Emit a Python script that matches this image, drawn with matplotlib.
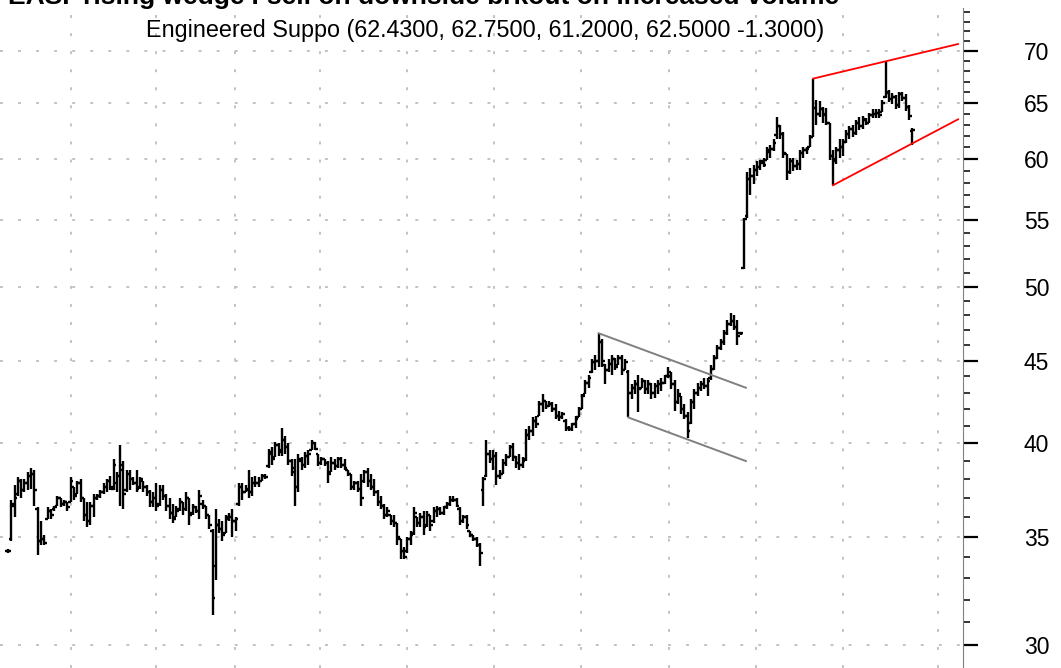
import numpy as np
import matplotlib
matplotlib.use("Agg")
import matplotlib.pyplot as plt
from matplotlib.ticker import FixedLocator, FixedFormatter, NullFormatter

plt.rcParams['font.family'] = ['Liberation Sans', 'DejaVu Sans']

# daily bars (open, high, low, close)
opens = [34.3, 34.9, 36.6, 37.2, 37.9, 37.4, 37.8, 38.2, 38.3, 36.4, 34.8, 34.9, 35.9, 36.3, 36.4, 36.6, 37.0, 36.7, 36.8, 36.8,
         37.6, 37.2, 37.8, 37.0, 36.1, 35.8, 36.6, 37.0, 37.1, 37.3, 37.6, 37.9, 37.5, 37.8, 38.2, 38.8, 37.4, 38.3, 38.0, 37.8,
         37.6, 37.9, 37.6, 37.3, 36.8, 37.0, 36.7, 37.4, 37.1, 36.6, 36.2, 36.0, 36.4, 36.8, 36.4, 37.0, 36.2, 36.5, 36.3, 36.7,
         36.6, 36.1, 35.3, 33.6, 35.6, 35.4, 35.2, 35.9, 36.0, 35.8, 36.7, 37.6, 37.3, 37.4, 37.3, 37.8, 37.8, 37.9, 38.2, 38.7,
         39.4, 39.2, 39.9, 39.6, 40.2, 39.8, 39.0, 38.6, 37.6, 39.0, 38.8, 39.3, 39.6, 40.0, 39.4, 38.9, 39.1, 38.9, 38.4, 38.9,
         38.7, 39.1, 38.8, 38.5, 38.3, 37.6, 37.8, 37.5, 37.9, 38.4, 37.9, 37.6, 37.3, 36.8, 36.6, 36.1, 36.1, 35.8, 35.7, 34.9,
         34.3, 34.3, 34.9, 35.2, 36.0, 35.7, 36.0, 35.6, 36.1, 35.8, 36.3, 36.4, 36.2, 36.5, 36.7, 36.9, 36.9, 36.4, 35.8, 36.0,
         35.3, 35.1, 34.9, 34.6, 37.4, 38.2, 39.4, 39.1, 39.3, 38.2, 38.3, 38.9, 39.2, 39.8, 39.2, 38.9, 38.8, 39.1, 40.5, 40.7,
         41.3, 41.6, 42.3, 42.5, 42.2, 42.3, 42.0, 41.6, 41.5, 41.3, 40.9, 40.8, 41.1, 41.5, 42.0, 42.9, 43.6, 44.3, 44.9, 45.0,
         46.2, 44.7, 44.4, 44.8, 45.1, 44.7, 45.2, 44.4, 44.3, 43.0, 43.3, 43.5, 43.3, 43.7, 43.2, 43.5, 43.0, 43.4, 43.5, 43.6,
         44.0, 44.0, 43.5, 42.4, 42.8, 42.0, 41.6, 41.2, 42.4, 43.0, 43.3, 43.5, 43.4, 43.9, 44.5, 45.2, 45.8, 46.2, 46.8, 47.4,
         47.6, 47.2, 46.8, 51.4, 55.3, 58.3, 58.6, 59.1, 59.3, 59.7, 59.9, 60.6, 60.9, 62.1, 62.9, 62.2, 60.4, 58.9, 59.8, 59.4,
         59.6, 60.5, 60.8, 61.0, 61.9, 64.5, 64.0, 64.4, 64.0, 63.2, 60.3, 60.0, 60.8, 61.0, 61.5, 62.2, 62.6, 62.3, 63.2, 62.9,
         63.4, 63.2, 63.9, 64.0, 64.1, 64.2, 65.6, 65.9, 65.4, 65.6, 64.8, 65.8, 65.5, 64.6, 62.43]
highs = [34.4, 36.9, 37.7, 38.1, 38.0, 38.0, 38.4, 38.6, 38.5, 36.5, 35.8, 35.1, 36.5, 36.4, 36.6, 37.1, 37.0, 36.9, 36.8, 38.1,
         37.6, 37.9, 38.0, 37.0, 36.8, 36.8, 37.2, 37.2, 37.4, 37.8, 38.0, 38.2, 39.1, 38.4, 39.9, 39.0, 38.5, 38.5, 38.1, 38.5,
         38.1, 37.9, 37.7, 37.4, 37.3, 37.8, 37.7, 37.7, 37.2, 37.0, 36.7, 36.6, 37.0, 36.8, 37.3, 37.0, 36.7, 36.6, 37.4, 36.9,
         36.6, 36.1, 35.4, 36.4, 35.9, 35.8, 36.1, 36.2, 36.4, 36.0, 37.8, 37.8, 37.7, 38.5, 38.1, 38.2, 38.1, 38.3, 38.3, 39.7,
         39.8, 40.1, 40.0, 40.9, 40.4, 40.0, 39.1, 39.1, 39.4, 39.2, 39.5, 39.6, 40.2, 40.1, 39.4, 39.2, 39.1, 39.0, 39.2, 39.1,
         39.2, 39.2, 39.1, 38.5, 38.3, 37.9, 37.9, 38.3, 38.5, 38.6, 38.3, 38.0, 37.4, 37.1, 36.7, 36.5, 36.1, 36.1, 35.7, 34.9,
         34.5, 35.0, 35.3, 36.5, 36.0, 36.2, 36.3, 36.3, 36.1, 36.5, 36.6, 36.5, 36.6, 36.8, 37.1, 37.1, 37.0, 36.5, 36.1, 36.1,
         35.3, 35.1, 35.0, 34.7, 38.1, 40.2, 39.6, 39.6, 39.5, 38.5, 39.1, 39.4, 39.9, 40.0, 39.3, 39.4, 39.2, 40.8, 41.0, 41.5,
         41.6, 42.5, 42.9, 42.5, 42.5, 42.4, 42.3, 41.9, 41.8, 41.4, 41.0, 41.2, 41.6, 42.1, 42.9, 43.8, 44.1, 45.1, 45.4, 46.8,
         46.4, 44.8, 45.1, 45.4, 45.2, 45.4, 45.4, 45.1, 44.4, 43.5, 43.8, 44.1, 43.9, 43.8, 43.8, 43.6, 43.6, 43.8, 43.9, 44.1,
         44.6, 44.3, 43.8, 43.2, 42.8, 42.3, 41.8, 42.6, 43.2, 43.6, 43.7, 43.9, 43.9, 44.7, 45.4, 46.0, 46.4, 47.0, 47.7, 48.2,
         48.0, 47.7, 46.9, 55.2, 58.9, 59.2, 59.5, 59.8, 59.9, 60.1, 61.0, 61.2, 61.7, 63.7, 63.0, 62.4, 60.4, 60.1, 60.1, 59.9,
         60.8, 61.0, 61.0, 62.1, 67.3, 65.3, 65.2, 64.6, 64.5, 63.2, 60.8, 61.0, 61.7, 61.7, 62.5, 62.9, 63.0, 63.4, 63.7, 63.8,
         63.6, 64.1, 64.4, 64.4, 64.4, 65.3, 69.0, 66.2, 65.9, 65.7, 66.0, 66.0, 65.8, 64.8, 62.75]
lows = [34.2, 34.8, 36.0, 37.1, 37.0, 37.3, 37.4, 37.5, 36.6, 34.1, 34.6, 34.6, 35.9, 35.9, 36.3, 36.6, 36.5, 36.6, 36.3, 36.8,
        36.9, 37.2, 36.8, 35.8, 35.5, 35.6, 36.0, 36.9, 37.0, 37.2, 37.3, 37.4, 37.4, 37.3, 36.6, 36.4, 37.3, 37.4, 37.7, 37.3,
        37.5, 37.3, 37.1, 36.5, 36.5, 36.3, 36.6, 36.9, 36.3, 35.9, 35.7, 36.0, 36.3, 36.1, 36.3, 35.6, 36.1, 36.2, 35.9, 36.4,
        35.9, 35.4, 31.3, 32.9, 35.2, 34.8, 35.2, 35.8, 35.0, 35.3, 36.6, 36.9, 37.3, 37.0, 37.1, 37.6, 37.6, 37.9, 38.0, 38.6,
        38.8, 39.2, 39.3, 39.3, 39.4, 38.8, 38.2, 36.6, 37.3, 38.5, 38.6, 38.8, 39.6, 39.6, 38.7, 38.8, 38.7, 37.8, 38.4, 38.5,
        38.6, 38.6, 38.5, 38.2, 37.4, 37.4, 37.3, 36.6, 37.8, 37.6, 37.4, 37.1, 36.6, 36.4, 35.9, 36.0, 35.6, 35.5, 34.6, 33.9,
        33.9, 34.2, 34.6, 35.1, 35.5, 35.5, 35.1, 35.5, 35.3, 35.7, 36.0, 36.1, 36.1, 36.4, 36.6, 36.8, 36.5, 35.6, 35.7, 35.4,
        35.0, 34.8, 34.5, 33.6, 36.6, 38.1, 38.9, 38.5, 37.7, 38.0, 38.3, 38.7, 39.2, 39.0, 38.6, 38.5, 38.6, 39.0, 40.2, 40.4,
        40.9, 41.6, 41.8, 42.0, 42.1, 41.8, 41.4, 41.3, 41.4, 40.7, 40.7, 40.7, 40.9, 41.5, 42.0, 42.9, 43.3, 44.2, 44.4, 44.6,
        44.6, 43.5, 44.3, 44.1, 44.4, 44.7, 44.1, 44.4, 41.5, 42.6, 42.9, 41.8, 43.3, 42.9, 42.9, 42.6, 42.7, 42.9, 43.1, 43.5,
        43.9, 43.2, 41.9, 42.3, 41.7, 41.4, 40.3, 41.1, 42.0, 42.8, 43.1, 43.2, 42.8, 43.8, 44.4, 45.1, 45.7, 46.0, 46.7, 47.3,
        47.0, 46.0, 46.7, 51.3, 55.2, 57.0, 57.9, 58.6, 59.1, 59.3, 59.9, 60.1, 60.7, 61.7, 61.7, 60.1, 58.2, 58.7, 59.0, 59.1,
        59.1, 60.1, 60.4, 61.0, 61.9, 63.0, 63.7, 63.2, 63.0, 59.9, 57.8, 59.6, 60.1, 60.3, 61.4, 61.7, 61.9, 62.1, 62.5, 62.6,
        63.0, 63.2, 63.6, 63.6, 63.6, 64.2, 65.5, 65.1, 64.9, 64.4, 64.5, 65.2, 64.3, 63.4, 61.2]
closes = [34.3, 36.7, 37.0, 37.9, 37.4, 37.8, 38.2, 38.3, 37.4, 34.8, 34.9, 34.7, 36.3, 36.1, 36.5, 37.0, 36.7, 36.8, 36.5, 37.9,
          37.1, 37.8, 37.0, 36.1, 35.8, 36.6, 37.0, 37.1, 37.3, 37.6, 37.9, 37.6, 38.8, 38.2, 38.5, 37.2, 38.3, 38.0, 37.8, 37.5,
          38.0, 37.6, 37.3, 36.8, 37.0, 36.6, 37.4, 37.1, 36.6, 36.2, 35.9, 36.3, 36.8, 36.4, 37.0, 36.1, 36.5, 36.3, 37.1, 36.6,
          36.1, 35.6, 32.1, 35.6, 35.4, 35.1, 36.0, 36.0, 35.8, 35.9, 37.6, 37.3, 37.5, 37.3, 37.8, 37.8, 37.9, 38.2, 38.1, 39.5,
          39.1, 39.9, 39.5, 40.2, 39.8, 39.0, 38.4, 37.6, 39.1, 38.8, 39.3, 39.4, 40.0, 39.7, 38.9, 39.1, 38.9, 38.3, 38.9, 38.7,
          39.1, 38.8, 38.6, 38.3, 37.6, 37.8, 37.5, 37.0, 38.4, 37.9, 37.6, 37.3, 36.8, 36.6, 36.1, 36.3, 35.8, 35.7, 35.0, 34.3,
          34.0, 34.9, 35.1, 36.2, 35.7, 36.0, 35.5, 36.1, 35.6, 36.3, 36.4, 36.2, 36.5, 36.7, 36.9, 36.9, 36.6, 35.8, 36.0, 35.6,
          35.1, 34.9, 34.6, 34.2, 38.0, 39.4, 39.1, 39.3, 38.2, 38.3, 38.9, 39.2, 39.8, 39.2, 38.9, 38.8, 39.0, 40.5, 40.7, 41.3,
          41.1, 42.3, 42.5, 42.2, 42.3, 42.0, 41.6, 41.5, 41.7, 40.9, 40.8, 41.1, 41.4, 42.0, 42.8, 43.6, 43.9, 44.9, 45.0, 46.2,
          45.0, 44.4, 44.8, 45.1, 44.6, 45.2, 44.4, 44.9, 43.0, 43.3, 43.5, 43.2, 43.7, 43.2, 43.5, 43.0, 43.4, 43.5, 43.6, 44.0,
          44.3, 43.5, 42.4, 42.9, 42.0, 41.6, 40.7, 42.4, 43.0, 43.3, 43.5, 43.4, 43.7, 44.5, 45.2, 45.8, 46.2, 46.8, 47.4, 47.6,
          47.2, 46.6, 46.8, 55.1, 58.3, 58.6, 59.1, 59.3, 59.8, 59.5, 60.8, 60.9, 61.4, 62.9, 62.2, 60.5, 58.9, 59.8, 59.4, 59.6,
          60.5, 60.8, 60.9, 61.9, 64.5, 64.0, 64.4, 63.9, 63.2, 60.3, 59.8, 60.8, 61.0, 61.5, 62.2, 62.6, 62.3, 63.2, 62.9, 63.5,
          63.2, 63.9, 64.0, 64.1, 63.9, 65.0, 66.0, 65.4, 65.6, 64.8, 65.8, 65.5, 64.6, 63.8, 62.5]

# trend lines: (bar, price) at each end
flag_top = [(179, 46.8), (223.6, 43.3)]
flag_bottom = [(188, 41.5), (223.6, 39.0)]
wedge_top = [(244, 67.3), (287.9, 70.7)]
wedge_bottom = [(250, 57.8), (287.9, 63.5)]

# vertical grid lines (bar positions) and price ticks
grid_bars = [19.1, 44.8, 68.8, 94.5, 120.9, 147.3, 173.6, 200.3, 226.7, 253.0, 281.8]
major_prices = [30, 35, 40, 45, 50, 55, 60, 65, 70]
minor_prices = [p for p in range(29, 75) if p % 5 != 0]

title = "EASI 'rising wedge': sell on downside brkout on increased volume"
subtitle = "Engineered Suppo (62.4300, 62.7500, 61.2000, 62.5000 -1.3000)"

fig = plt.figure(figsize=(10.61, 6.68), dpi=100)
ax = fig.add_axes([0, 0, 963 / 1061, 660 / 668])

x = np.arange(len(closes))
w = 0.8
ax.vlines(x, lows, highs, color='black', lw=1.7)
ax.hlines(opens, x - w, x, color='black', lw=1.7)
ax.hlines(closes, x, x + w, color='black', lw=1.7)

for line in (flag_top, flag_bottom):
    ax.plot([p[0] for p in line], [p[1] for p in line], color='#808080', lw=1.4)
for line in (wedge_top, wedge_bottom):
    ax.plot([p[0] for p in line], [p[1] for p in line], color='#ff0000', lw=1.3)

ax.set_yscale('log')
ax.set_ylim(29.03, 74.43)
ax.set_xlim(-2.42, 289.4)

ax.yaxis.tick_right()
ax.yaxis.set_major_locator(FixedLocator(major_prices))
ax.yaxis.set_major_formatter(FixedFormatter([str(p) for p in major_prices]))
ax.yaxis.set_minor_locator(FixedLocator(minor_prices))
ax.yaxis.set_minor_formatter(NullFormatter())
ax.tick_params(axis='y', which='major', length=10.8, width=1.6, color='black',
               pad=33, labelsize=16.5)
ax.tick_params(axis='y', which='minor', length=5, width=1.1, color='black')

ax.set_xticks(grid_bars)
ax.tick_params(axis='x', length=0, labelbottom=False)

ax.grid(True, which='major', color='#bdbdbd', linestyle=(0, (1.6, 8.4)), linewidth=1.3)
ax.set_axisbelow(True)

for side in ('top', 'left', 'bottom'):
    ax.spines[side].set_visible(False)
ax.spines['right'].set_color('#808080')
ax.spines['right'].set_linewidth(0.8)

fig.text(8 / 1061, 664 / 668, title, fontsize=19, fontweight='bold', ha='left', va='baseline')
fig.text(485 / 1061, 631 / 668, subtitle, fontsize=16.8, ha='center', va='baseline')

fig.savefig('out.png', dpi=100, facecolor='white')
